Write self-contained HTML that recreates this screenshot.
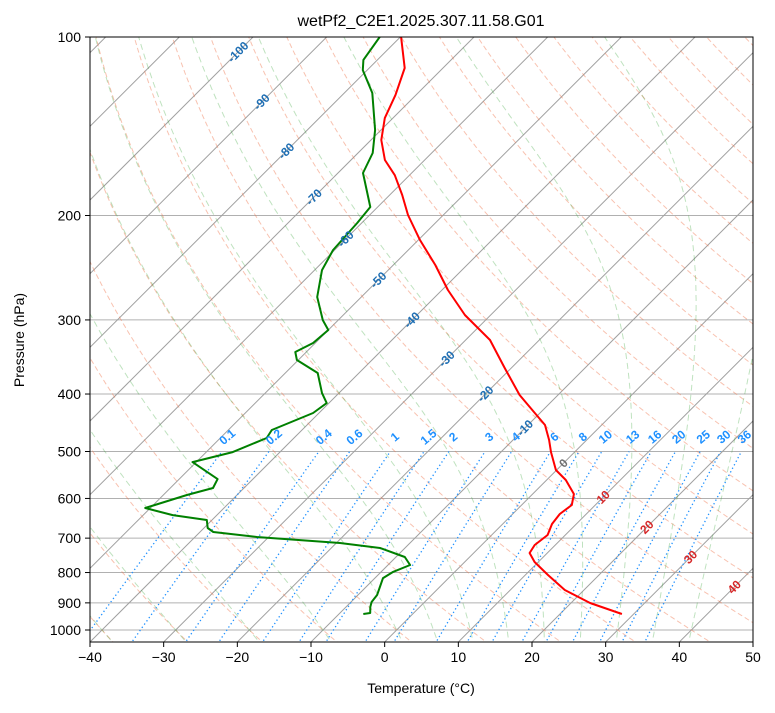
<!DOCTYPE html>
<html><head><meta charset="utf-8"><style>
body{margin:0;background:#fff;}
svg{font-family:"Liberation Sans","DejaVu Sans",sans-serif;}
</style></head><body>
<svg id="chart" width="775" height="708" viewBox="0 0 775 708" xmlns="http://www.w3.org/2000/svg">
<defs><clipPath id="plotclip"><rect x="90" y="37" width="663" height="605"/></clipPath></defs>
<rect x="0" y="0" width="775" height="708" fill="#fff"/>
<text x="421" y="26" text-anchor="middle" font-size="16">wetPf2_C2E1.2025.307.11.58.G01</text>
<g id="bg" clip-path="url(#plotclip)"></g>
<g id="series" clip-path="url(#plotclip)"></g>
<g id="labels"></g>
<rect x="90" y="37" width="663" height="605" fill="none" stroke="#000" stroke-width="1"/>
<g id="axes"></g>
<text x="421" y="693" text-anchor="middle" font-size="14">Temperature (°C)</text>
<text x="24" y="340" text-anchor="middle" font-size="14" transform="rotate(-90 24 340)">Pressure (hPa)</text>
</svg>
<script>
// Data arrays
const tempPressure = [100,112.8,125.2,137.0,149.2,161.2,171.0,184.7,199.6,219.9,242.4,267.1,294.3,324.3,361.5,401.6,430.6,451.1,478.2,501.2,537.3,558.5,589.7,615.4,637.4,662.6,691.6,719.0,741.7,768.0,808.0,856.3,900.5,939.8];
const tempValues = [-79.9,-75.2,-72.8,-71.1,-68.6,-65.4,-62.0,-58.3,-54.8,-49.8,-44.3,-39.2,-33.5,-26.7,-20.9,-15.2,-10.7,-7.7,-5.1,-3.2,-0.1,2.6,5.6,6.8,6.4,6.7,7.6,7.2,7.6,9.5,13.1,17.4,22.6,28.4];
const dewPressure = [100,109.3,113.7,124.3,143.5,156.9,169.6,193.5,205.9,228.7,247.2,274.4,300.2,312.0,328.1,339.8,350.5,368.7,398.5,414.3,430.6,459.9,474.5,501.2,521.1,556.5,576.2,592.0,622.7,640.0,652.5,673.0,683.5,697.0,713.4,727.3,753.3,777.0,798.6,817.4,873.0,897.0,914.6,936.2,939.8];
const dewValues = [-82.8,-81.9,-80.6,-76.2,-70.8,-68.0,-66.6,-61.0,-60.6,-60.2,-59.0,-56.0,-52.1,-50.0,-50.3,-51.5,-50.2,-45.6,-42.3,-40.3,-40.8,-44.1,-43.7,-46.4,-50.5,-44.8,-44.2,-46.8,-50.7,-46.0,-40.7,-39.5,-38.2,-31.6,-19.5,-13.4,-8.8,-7.0,-8.4,-8.9,-7.4,-7.2,-6.7,-5.9,-6.7];
const xTicks = [-40,-30,-20,-10,0,10,20,30,40,50];
const yTicks = [100,200,300,400,500,600,700,800,900,1000];
const mixingRatios = [0.1,0.2,0.4,0.6,1,1.5,2,3,4,6,8,10,13,16,20,25,30,36];
const isoLabelTemps = [-100,-90,-80,-70,-60,-50,-40,-30,-20,-10,0,10,20,30,40];
const isoLabelPressures = [106,128.7,155.7,186.2,219.1,256.9,300.2,349.1,399.9,456.4,523.1,596.9,670.5,753.3,846.5];

const NS="http://www.w3.org/2000/svg";
const X0=90,X1=753,Y0=37,Y1=642,PXC=(X1-X0)/90;
function yOf(p){return Y0+593*Math.log10(p/100);}
function xOf(T,p){return X0+(T+40)*PXC+(Y1-yOf(p));}
function mk(tag,attrs,parent){const e=document.createElementNS(NS,tag);for(const k in attrs)e.setAttribute(k,attrs[k]);parent.appendChild(e);return e;}
const bg=document.getElementById('bg'),series=document.getElementById('series'),labels=document.getElementById('labels'),axes=document.getElementById('axes');
function pathFrom(ps,ts){return ps.map((p,i)=>(i?'L':'M')+xOf(ts[i],p).toFixed(1)+','+yOf(p).toFixed(1)).join('');}

yTicks.forEach(p=>{
  const l=mk('line',{x1:X0,x2:X1,y1:yOf(p),y2:yOf(p),stroke:'#b0b0b0','stroke-width':1},bg);
  
  
});
for(let T=-150;T<=50;T+=10){
  const l=mk('line',{x1:xOf(T,1100),y1:yOf(1100),x2:xOf(T,90),y2:yOf(90),stroke:'#a0a0a0','stroke-width':1},bg);
  
  
}
const pLevels=[];for(let p=1060;p>=95;p-=5)pLevels.push(p);
for(let th=-40;th<=200;th+=10){
  const ts=pLevels.map(p=>(th+273.15)*Math.pow(p/1000,0.2857)-273.15);
  const e=mk('path',{d:pathFrom(pLevels,ts),fill:'none',stroke:'#f07850','stroke-opacity':0.45,'stroke-width':1,'stroke-dasharray':'5,3'},bg);
  
  
}
function dTdp(T,p){const Tc=T-273.15;const es=6.112*Math.exp(17.67*Tc/(Tc+243.5));const rs=0.622*es/(p-es);
  return (287.04*T+2.501e6*rs)/(1005.7+2.501e6*2.501e6*rs*0.622/(287.04*T*T))/p;}
function moist(t0){
  const up=[],dn=[];let T=t0+273.15,p=1000;
  for(;p>=95;p-=2){up.push([p,T-273.15]);const k1=dTdp(T,p),k2=dTdp(T-2*k1,p-2);T-=(k1+k2);}
  T=t0+273.15;p=1000;
  for(;p<=1070;p+=2){dn.push([p,T-273.15]);const k1=dTdp(T,p),k2=dTdp(T+2*k1,p+2);T+=(k1+k2);}
  return dn.reverse().concat(up);
}
const moistStarts=[-50,-40,-30,-20,-10,0,5,10,15,20,25,30,35,40];
moistStarts.forEach(t0=>{
  const pts=moist(t0);
  const e=mk('path',{d:pathFrom(pts.map(a=>a[0]),pts.map(a=>a[1])),fill:'none',stroke:'#2ca02c','stroke-opacity':0.3,'stroke-width':1,'stroke-dasharray':'6,4'},bg);
  
  
});
function tdOf(w,p){const ww=w/1000;const e=ww*p/(0.622+ww);const l=Math.log(e/6.112);return 243.5*l/(17.67-l);}
const mixP=[];for(let p=1070;p>=500;p-=10)mixP.push(p);
mixingRatios.forEach(w=>{
  const e=mk('path',{d:pathFrom(mixP,mixP.map(p=>tdOf(w,p))),fill:'none',stroke:'#1e90ff','stroke-width':1.3,'stroke-dasharray':'1.3,2.7'},bg);
  
  
  const lx=xOf(tdOf(w,480),480),ly=yOf(480)-1;
  const t=mk('text',{x:lx,y:ly,'font-size':12,'font-weight':'bold',fill:'#1e90ff','text-anchor':'middle',transform:`rotate(-40 ${lx} ${ly})`},labels);
  t.textContent=String(w);
  
  
});
isoLabelTemps.forEach((T,i)=>{
  const p=isoLabelPressures[i],lx=xOf(T,p),ly=yOf(p)+4;
  const col=T<0?'#1f6fb4':(T>0?'#d62728':'#707070');
  const t=mk('text',{x:lx,y:ly,'font-size':12,'font-weight':'bold',fill:col,'text-anchor':'middle',transform:`rotate(-45 ${lx} ${ly-4})`},labels);
  t.textContent=String(T);
  
  
});
const tl=mk('path',{d:pathFrom(tempPressure,tempValues),fill:'none',stroke:'#ff0000','stroke-width':2,'stroke-linejoin':'round'},series);


const dl=mk('path',{d:pathFrom(dewPressure,dewValues),fill:'none',stroke:'#008000','stroke-width':2,'stroke-linejoin':'round'},series);


xTicks.forEach(T=>{
  const x=X0+(T+40)*PXC;
  const l=mk('line',{x1:x,x2:x,y1:Y1,y2:Y1+5,stroke:'#000'},axes);
  
  
  const t=mk('text',{x:x,y:Y1+20,'font-size':14,'text-anchor':'middle'},axes);
  t.textContent=(T<0?'\u2212'+(-T):String(T));
  
  
});
yTicks.forEach(p=>{
  const y=yOf(p);
  const l=mk('line',{x1:X0-5,x2:X0,y1:y,y2:y,stroke:'#000'},axes);
  
  
  const t=mk('text',{x:X0-9,y:y+5,'font-size':14,'text-anchor':'end'},axes);
  t.textContent=String(p);
  
  
});
</script>
</body></html>
